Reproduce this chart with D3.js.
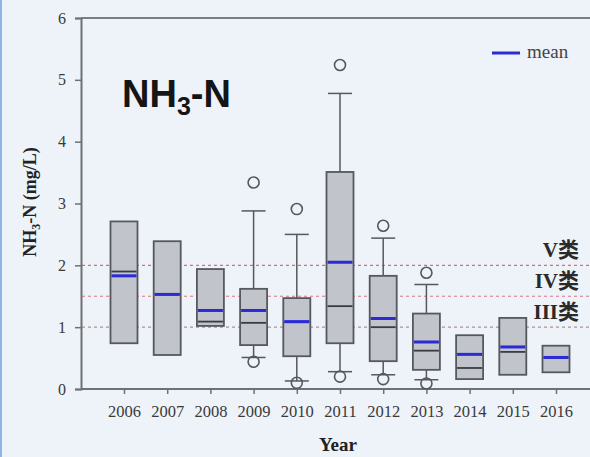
<!DOCTYPE html>
<html>
<head>
<meta charset="utf-8">
<script src="https://cdn.jsdelivr.net/npm/d3@7"></script>
<style>
html,body{margin:0;padding:0;background:#eef2f9;}
svg{display:block;}
</style>
</head>
<body>
<svg id="chart" width="590" height="457"></svg>
<script>
'use strict'
// box stats per year
var years = ['2006','2007','2008','2009','2010','2011','2012','2013','2014','2015','2016'];
var q1 =     [0.74, 0.55, 1.02, 0.71, 0.53, 0.74, 0.45, 0.31, 0.16, 0.23, 0.27];
var q3 =     [2.71, 2.39, 1.94, 1.62, 1.47, 3.51, 1.83, 1.22, 0.87, 1.15, 0.70];
var median = [1.90, 1.53, 1.09, 1.07, 1.08, 1.34, 1.00, 0.62, 0.34, 0.60, 0.51];
var mean =   [1.83, 1.53, 1.27, 1.27, 1.09, 2.05, 1.14, 0.76, 0.56, 0.68, 0.51];
var whiskLo = [null, null, null, 0.51, 0.13, 0.28, 0.23, 0.15, null, null, null];
var whiskHi = [null, null, null, 2.88, 2.50, 4.78, 2.44, 1.69, null, null, null];
var outliers = [[], [], [], [3.34, 0.44], [2.91, 0.10], [5.24, 0.20], [2.64, 0.16], [1.88, 0.09], [], [], []];
var yTicks = [0, 1, 2, 3, 4, 5, 6];
var classLines = [
	{label: 'V类', value: 2.0, color: '#de6b7c'}
	,{label: 'IV类', value: 1.5, color: '#d77a86'}
	,{label: 'III类', value: 1.0, color: '#a99494'}
];

var svg = d3.select('#chart');
var x = d3.scalePoint().domain(years).range([124, 556]);
var y = d3.scaleLinear().domain([0, 6]).range([389, 18]);
var boxW = 27, capW = 24;
var serif = '"Liberation Serif","Times New Roman",serif';

// left blue edge
svg.append('rect').attr('x', 0).attr('y', 0).attr('width', 2).attr('height', 457).attr('fill', '#8fb6e3');

// class reference lines
svg.selectAll('line.cls').data(classLines).enter().append('line')
	.attr('class', 'cls')
	.attr('x1', 82).attr('x2', 590)
	.attr('y1', function(d){ return y(d.value); })
	.attr('y2', function(d){ return y(d.value); })
	.attr('stroke', function(d){ return d.color; })
	.attr('stroke-width', 1.2)
	.attr('stroke-dasharray', '3,3');

// frame: top line
svg.append('line').attr('x1', 81).attr('x2', 590).attr('y1', y(6)).attr('y2', y(6))
	.attr('stroke', '#7a7d82').attr('stroke-width', 2);

// axes
var yAxis = d3.axisLeft(y).tickValues(yTicks).tickSize(6).tickPadding(9).tickFormat(d3.format('d'));
var gy = svg.append('g').attr('transform', 'translate(81,0)').call(yAxis);
var xAxis = d3.axisBottom(x).tickSize(5).tickPadding(11);
var gx = svg.append('g').attr('transform', 'translate(0,' + y(0) + ')').call(xAxis);
gx.select('.domain').attr('d', 'M81,0H590');
[gx, gy].forEach(function(g){
	g.select('.domain').attr('stroke', '#6d7075').attr('stroke-width', 2);
	g.selectAll('.tick line').attr('stroke', '#6d7075').attr('stroke-width', 1.5);
	g.selectAll('.tick text').attr('font-family', serif).attr('font-size', 16.5).attr('fill', '#3a3a3a');
});
gy.selectAll('.tick text').attr('font-size', 16);

// boxes
var box = svg.selectAll('g.box').data(years).enter().append('g').attr('class', 'box')
	.attr('transform', function(d){ return 'translate(' + x(d) + ',0)'; });

box.each(function(d, i){
	var g = d3.select(this);
	if(whiskHi[i] != null){
		g.append('line').attr('x1', 0).attr('x2', 0).attr('y1', y(q3[i])).attr('y2', y(whiskHi[i]))
			.attr('stroke', '#55585c').attr('stroke-width', 1.5);
		g.append('line').attr('x1', -capW/2).attr('x2', capW/2).attr('y1', y(whiskHi[i])).attr('y2', y(whiskHi[i]))
			.attr('stroke', '#55585c').attr('stroke-width', 1.5);
	}
	if(whiskLo[i] != null){
		g.append('line').attr('x1', 0).attr('x2', 0).attr('y1', y(q1[i])).attr('y2', y(whiskLo[i]))
			.attr('stroke', '#55585c').attr('stroke-width', 1.5);
		g.append('line').attr('x1', -capW/2).attr('x2', capW/2).attr('y1', y(whiskLo[i])).attr('y2', y(whiskLo[i]))
			.attr('stroke', '#55585c').attr('stroke-width', 1.5);
	}
	g.append('rect').attr('x', -boxW/2).attr('width', boxW)
		.attr('y', y(q3[i])).attr('height', y(q1[i]) - y(q3[i]))
		.attr('fill', '#c1c4cb').attr('stroke', '#55585c').attr('stroke-width', 1.8);
	g.append('line').attr('x1', -boxW/2 + 1).attr('x2', boxW/2 - 1).attr('y1', y(median[i])).attr('y2', y(median[i]))
		.attr('stroke', '#3a3c44').attr('stroke-width', 1.8);
	g.append('line').attr('x1', -boxW/2 + 1).attr('x2', boxW/2 - 1).attr('y1', y(mean[i])).attr('y2', y(mean[i]))
		.attr('stroke', '#2a2ad6').attr('stroke-width', 3);
	g.selectAll('circle').data(outliers[i]).enter().append('circle')
		.attr('cx', 0).attr('cy', function(v){ return y(v); }).attr('r', 5.5)
		.attr('fill', 'none').attr('stroke', '#55585c').attr('stroke-width', 1.6);
});

// class labels
svg.selectAll('text.cls').data(classLines).enter().append('text')
	.attr('class', 'cls')
	.attr('x', 579).attr('y', function(d){ return y(d.value) - 8; })
	.attr('text-anchor', 'end')
	.attr('font-family', '"Liberation Serif","Noto Sans CJK SC",serif')
	.attr('font-weight', 'bold').attr('font-size', 21).attr('fill', '#2a2a2a')
	.text(function(d){ return d.label; });

// legend
svg.append('line').attr('x1', 492).attr('x2', 520).attr('y1', 53).attr('y2', 53)
	.attr('stroke', '#2a2ad6').attr('stroke-width', 3);
svg.append('text').attr('x', 527).attr('y', 58).attr('font-family', serif).attr('font-size', 19)
	.attr('fill', '#444').text('mean');

// title
var title = svg.append('text').attr('x', 122).attr('y', 107)
	.attr('font-family', 'Arial, "Liberation Sans", sans-serif').attr('font-weight', 'bold')
	.attr('font-size', 38).attr('fill', '#151515');
title.append('tspan').text('NH');
title.append('tspan').attr('font-size', 25).attr('dy', 8).text('3');
title.append('tspan').attr('dy', -8).text('-N');

// axis titles
var ylab = svg.append('text').attr('transform', 'translate(36,202) rotate(-90)')
	.attr('text-anchor', 'middle').attr('font-family', serif).attr('font-weight', 'bold')
	.attr('font-size', 18).attr('fill', '#222');
ylab.append('tspan').text('NH');
ylab.append('tspan').attr('font-size', 12).attr('dy', 4).text('3');
ylab.append('tspan').attr('dy', -4).text('-N (mg/L)');

svg.append('text').attr('x', 338).attr('y', 451).attr('text-anchor', 'middle')
	.attr('font-family', serif).attr('font-weight', 'bold').attr('font-size', 19)
	.attr('fill', '#222').text('Year');
</script>
</body>
</html>
